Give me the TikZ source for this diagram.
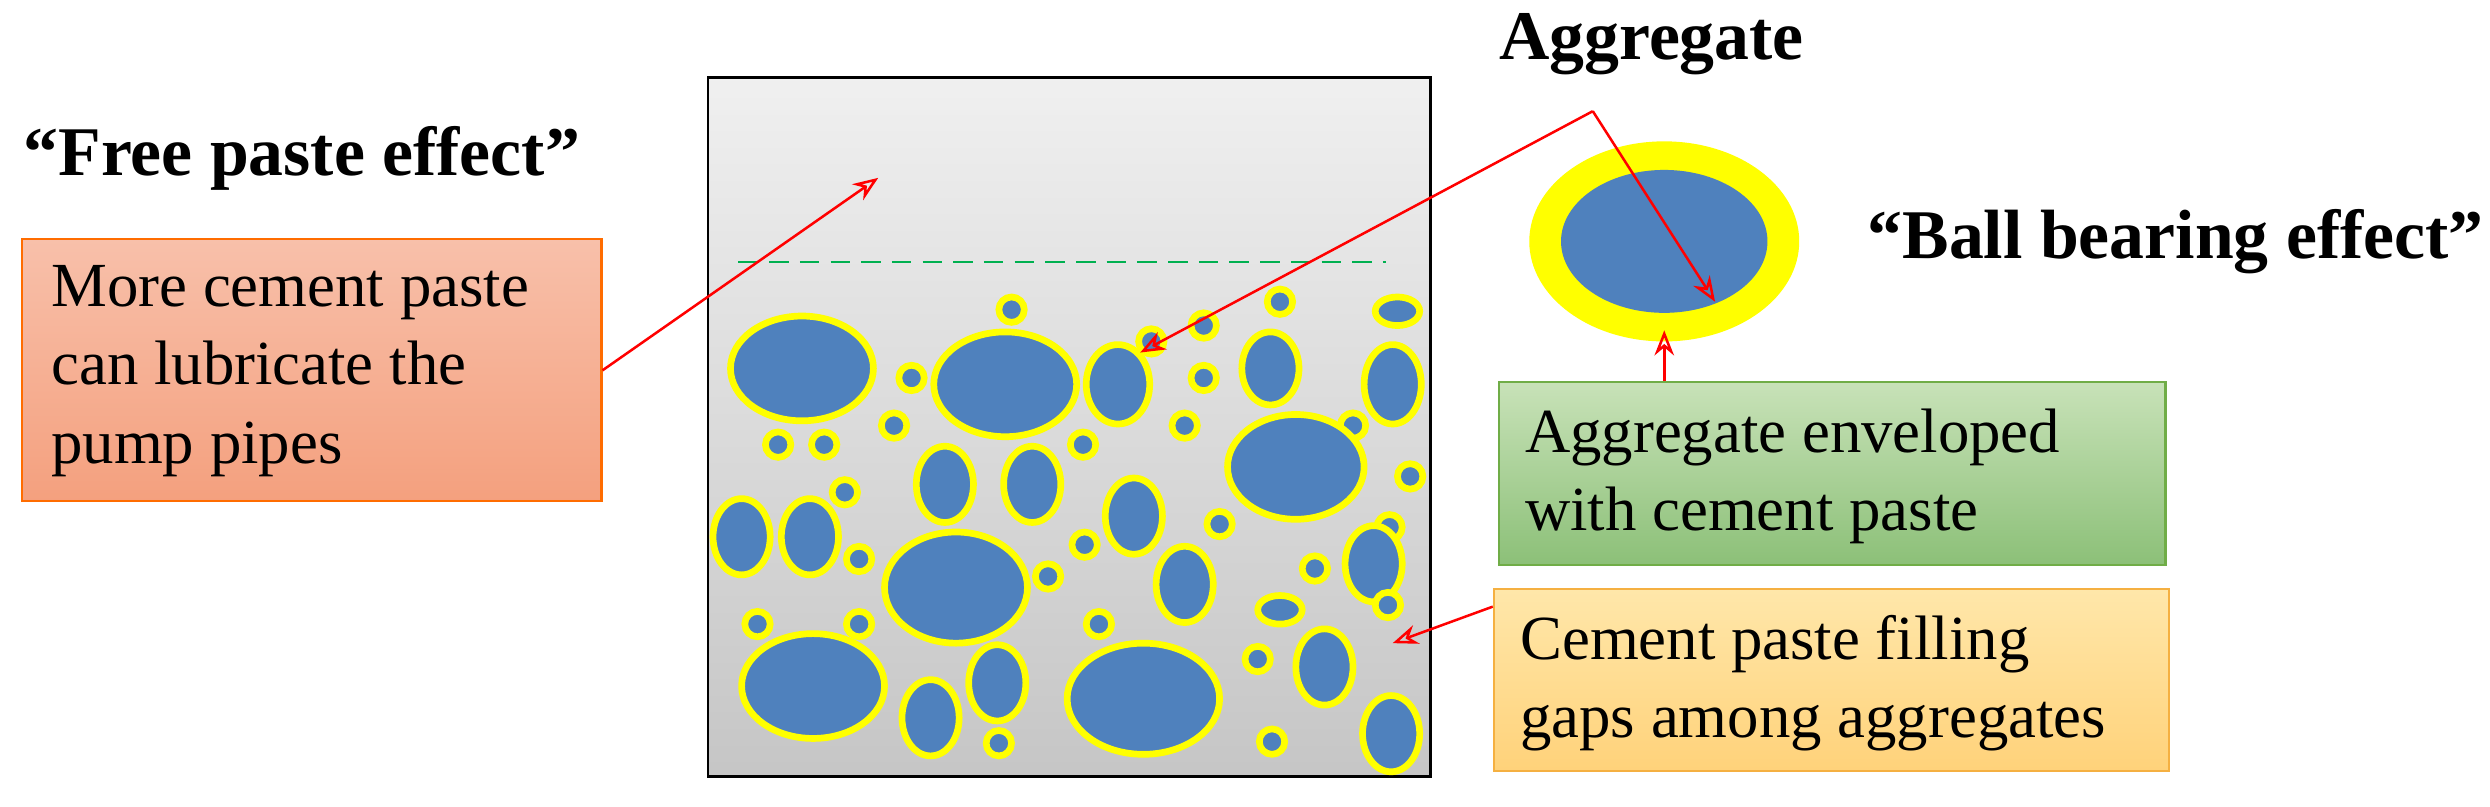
\documentclass[tikz,border=0pt]{standalone}
\usepackage{fontspec}
\setmainfont{Liberation Serif}
\usetikzlibrary{arrows.meta}
\definecolor{bblue}{HTML}{4F81BD}
\definecolor{byel}{HTML}{FFFF00}
\tikzset{
  agg/.style={fill=bblue,draw=byel,line width=2.4pt},
  redarrow/.style={draw=red,line width=0.9pt,-{Stealth[length=9pt,width=7pt,open]}},
  body/.style={font=\fontsize{22.5}{28}\selectfont,align=left,anchor=north west,inner sep=0pt},
  title/.style={font=\fontsize{25}{30}\selectfont\bfseries,inner sep=0pt},
}
\begin{document}
\begin{tikzpicture}[x=0.02cm,y=-0.02cm]
\useasboundingbox (0,0) rectangle (1568,508);
% main box
\node[draw=black,line width=1pt,top color=gray!12,bottom color=gray!45,minimum width=455*0.02cm,minimum height=440*0.02cm,anchor=north west,inner sep=0pt] (box) at (445,48) {};
\draw[dashed,draw={rgb,255:red,0;green,176;blue,80},line width=1pt,dash pattern=on 7pt off 4pt] (465,165) coordinate (d1) -- (873,165) coordinate (d2);
\foreach \x/\y/\a/\b in {
505/232/45/33, 633/242/45/33, 704/242/20/25, 800/232/18/23, 877/242/18/25,
637/195/8/8, 725/215/8/8, 758/205/8/8, 806/190/8/8, 880/196/14/9,
574/238/8/8, 758/238/8/8, 563/268/8/8, 746/268/8/8, 490/280/8/8, 519/280/8/8,
682/280/8/8, 852/268/8/8, 816/294/43/33, 595/305/18/24, 650/305/18/24,
532/310/8/8, 888/300/8/8, 467/338/18/24, 510/338/18/24, 714/325/18/24,
768/330/8/8, 875/332/8/8, 602/370/45/35, 541/352/8/8, 683/343/8/8,
660/363/8/8, 746/368/18/24, 828/358/8/8, 865/355/18/24, 806/384/14/9,
874/381/8/8, 477/393/8/8, 541/393/8/8, 692/393/8/8, 512/432/45/33,
628/430/18/24, 720/440/48/35, 834/420/18/24, 792/415/8/8, 586/452/18/24,
629/468/8/8, 801/467/8/8, 876/462/18/24}
  \draw[agg] (\x,\y) ellipse [x radius=\a*0.02cm, y radius=\b*0.02cm];
% ball bearing
\fill[byel] (1048,152) ellipse [x radius=85*0.02cm, y radius=63*0.02cm];
\fill[bblue] (1048,152) ellipse [x radius=65*0.02cm, y radius=45*0.02cm];
% texts
\node[title] (free) at (190,100) {“Free paste effect”};
\node[title] (aggt) at (1040,28) {Aggregate};
\node[title] (ball) at (1370,152) {“Ball bearing effect”};
% boxes
\node[draw=orange!85!red,line width=0.8pt,top color={rgb,255:red,248;green,192;blue,170},bottom color={rgb,255:red,244;green,160;blue,126},minimum width=365*0.02cm,minimum height=165*0.02cm,anchor=north west,inner sep=0pt] (lbox) at (13,150) {};
\node[body] at (32,167) {More cement paste\\can lubricate the\\pump pipes};
\node[draw={rgb,255:red,112;green,173;blue,71},line width=0.8pt,top color={rgb,255:red,200;green,226;blue,184},bottom color={rgb,255:red,140;green,192;blue,120},minimum width=420*0.02cm,minimum height=115*0.02cm,anchor=north west,inner sep=0pt] (gbox) at (943,240) {};
\node[body] at (960,257) {Aggregate enveloped\\with cement paste};
\node[draw={rgb,255:red,245;green,176;blue,65},line width=0.8pt,top color={rgb,255:red,255;green,231;blue,170},bottom color={rgb,255:red,255;green,210;blue,122},minimum width=425*0.02cm,minimum height=115*0.02cm,anchor=north west,inner sep=0pt] (ybox) at (940,370) {};
\node[body] at (957,387) {Cement paste filling\\gaps among aggregates};
% arrows
\coordinate (a1) at (553,112);
\coordinate (ap) at (1003,70);
\coordinate (a2) at (718,222);
\coordinate (a3) at (1080,190);
\coordinate (g0) at (1048,240);
\coordinate (a4) at (1048,208);
\coordinate (a5) at (877,405);
\draw[redarrow] (lbox.east) -- (a1);
\draw[redarrow] (ap) -- (a2);
\draw[redarrow] (ap) -- (a3);
\draw[redarrow] (g0) -- (a4);
\draw[redarrow] (940,382) -- (a5);
\end{tikzpicture}
\end{document}
